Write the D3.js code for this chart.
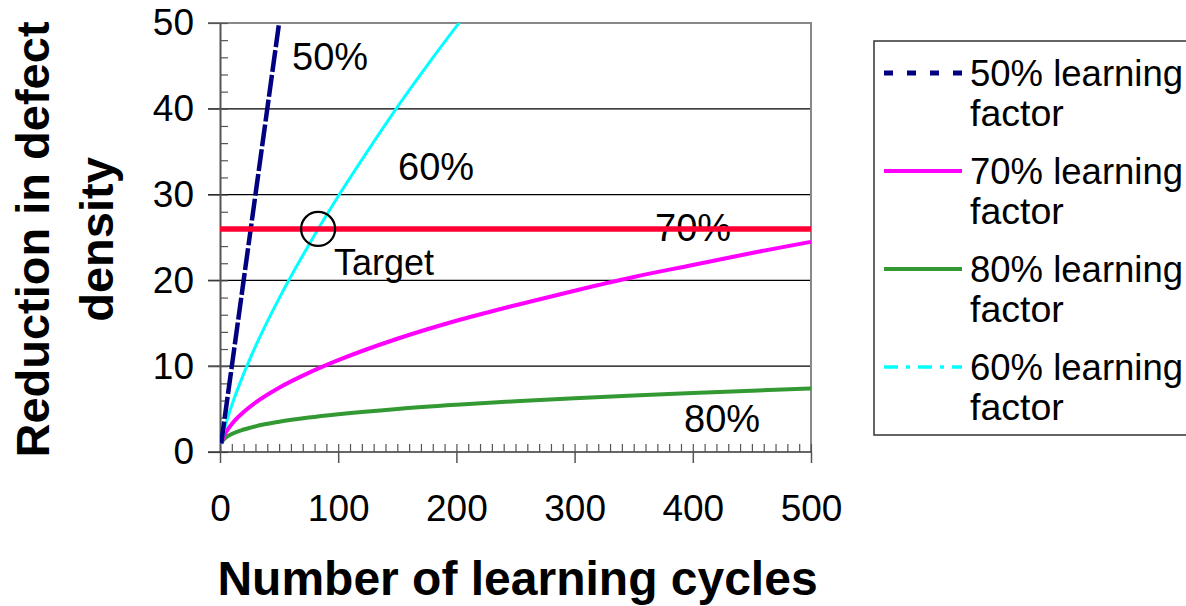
<!DOCTYPE html>
<html>
<head>
<meta charset="utf-8">
<script src="https://cdn.jsdelivr.net/npm/d3@7"></script>
<style>
  html, body { margin: 0; padding: 0; background: #fff; }
  svg { display: block; font-family: "Liberation Sans", Arial, sans-serif; }
</style>
</head>
<body>
<svg id="chart" width="1186" height="606"></svg>
<script>
// Learning-curve series: reduction in defect density vs. number of learning cycles
const cycles = [1, 2, 5, 10, 20, 30, 50, 75, 100, 150, 200, 250, 300, 350, 400, 450, 500];
const factor70 = [1, 1.43, 2.29, 3.27, 4.67, 5.76, 7.49, 9.22, 10.7, 13.2, 15.3, 17.1, 18.8, 20.4, 21.8, 23.2, 24.5];
const factor80 = [1, 1.25, 1.68, 2.10, 2.62, 2.99, 3.52, 4.01, 4.40, 5.02, 5.50, 5.91, 6.27, 6.59, 6.88, 7.15, 7.40];
const cycles60 = [1, 2, 5, 10, 20, 30, 50, 75, 100, 125, 150, 175, 200, 205];
const factor60 = [1, 1.67, 3.27, 5.46, 9.10, 12.3, 17.9, 24.1, 29.8, 35.1, 40.2, 45.0, 49.6, 50.5];
const cycles50 = [1, 10, 20, 30, 40, 50];
const factor50 = [1, 10, 20, 30, 40, 50];

const targetValue = 26;
const targetCycles = 83;

const xTicks = [0, 100, 200, 300, 400, 500];
const yTicks = [0, 10, 20, 30, 40, 50];

const legendLabels = ["50% learning", "70% learning", "80% learning", "60% learning"];
const curveLabels = [
  { text: "50%", x: 292, y: 70 },
  { text: "60%", x: 398, y: 180 },
  { text: "70%", x: 655, y: 241 },
  { text: "80%", x: 684, y: 432 }
];

const svg = d3.select("#chart");
const plotLeft = 220, plotRight = 811, plotTop = 23, plotBottom = 452;

const x = d3.scaleLinear().domain([0, 500]).range([plotLeft, plotRight]);
const y = d3.scaleLinear().domain([0, 50]).range([plotBottom, plotTop]);

// horizontal gridlines (extend left as outer major ticks)
svg.append("g")
  .selectAll("line")
  .data(yTicks.slice(1))
  .join("line")
  .attr("x1", plotLeft - 12).attr("x2", plotRight)
  .attr("y1", d => y(d)).attr("y2", d => y(d))
  .attr("stroke", "#000").attr("stroke-width", 1.2);

// plot frame (top, right)
svg.append("path")
  .attr("d", `M${plotLeft},${plotTop}H${plotRight}V${plotBottom}`)
  .attr("fill", "none").attr("stroke", "#888").attr("stroke-width", 2);

// y axis: major ticks + labels
const yAxis = svg.append("g")
  .attr("transform", `translate(${plotLeft},0)`)
  .call(d3.axisLeft(y).tickValues(yTicks).tickSize(12).tickPadding(14).tickSizeOuter(0));
yAxis.select(".domain").attr("stroke", "#555").attr("stroke-width", 2);
yAxis.selectAll(".tick line").attr("stroke", "#555").attr("stroke-width", 1.2);
yAxis.selectAll("text").attr("font-size", 37).attr("fill", "#000")
  .attr("font-family", "'Liberation Sans', Arial, sans-serif");

// y axis minor ticks (inside)
svg.append("g")
  .attr("transform", `translate(${plotLeft},0)`)
  .call(d3.axisRight(y).tickValues(d3.range(0, 51, 2)).tickSize(8).tickFormat(""))
  .call(g => g.select(".domain").remove())
  .selectAll(".tick line").attr("stroke", "#555").attr("stroke-width", 1.2);

// x axis: major ticks + labels
const xAxis = svg.append("g")
  .attr("transform", `translate(0,${plotBottom})`)
  .call(d3.axisBottom(x).tickValues(xTicks).tickSize(11).tickPadding(45).tickSizeOuter(0));
xAxis.select(".domain").attr("stroke", "#333").attr("stroke-width", 1.5)
  .attr("d", `M${plotLeft - 12},0H${plotRight}`);
xAxis.selectAll(".tick line").attr("stroke", "#555").attr("stroke-width", 1.5);
xAxis.selectAll("text").attr("font-size", 37).attr("fill", "#000")
  .attr("font-family", "'Liberation Sans', Arial, sans-serif")
  .attr("dy", "0.34em");

// x axis minor ticks (inside)
svg.append("g")
  .attr("transform", `translate(0,${plotBottom})`)
  .call(d3.axisTop(x).tickValues(d3.range(0, 501, 10)).tickSize(8).tickFormat(""))
  .call(g => g.select(".domain").remove())
  .selectAll(".tick line").attr("stroke", "#555").attr("stroke-width", 1.2);

// clip for curves
svg.append("clipPath").attr("id", "plotClip")
  .append("rect").attr("x", plotLeft).attr("y", plotTop)
  .attr("width", plotRight - plotLeft).attr("height", plotBottom - plotTop);

const mk = d3.line().x(d => x(d[0])).y(d => y(d[1])).curve(d3.curveMonotoneX);

const plot = svg.append("g").attr("clip-path", "url(#plotClip)");

plot.append("path")
  .datum(d3.zip(cycles, factor80))
  .attr("d", mk).attr("fill", "none")
  .attr("stroke", "#339933").attr("stroke-width", 4);

plot.append("path")
  .datum(d3.zip(cycles, factor70))
  .attr("d", mk).attr("fill", "none")
  .attr("stroke", "#ff00ff").attr("stroke-width", 4);

plot.append("path")
  .datum(d3.zip(cycles60, factor60))
  .attr("d", mk).attr("fill", "none")
  .attr("stroke", "#00ffff").attr("stroke-width", 3);

plot.append("path")
  .datum(d3.zip(cycles50, factor50))
  .attr("d", mk).attr("fill", "none")
  .attr("stroke", "#000080").attr("stroke-width", 4.5)
  .attr("stroke-dasharray", "22,3");

// curve labels
svg.append("g")
  .selectAll("text")
  .data(curveLabels)
  .join("text")
  .attr("x", d => d.x).attr("y", d => d.y)
  .attr("font-size", 38).attr("fill", "#000")
  .text(d => d.text);

// target line and marker
svg.append("line")
  .attr("x1", x(0)).attr("x2", x(500))
  .attr("y1", y(targetValue)).attr("y2", y(targetValue))
  .attr("stroke", "#ff0033").attr("stroke-width", 5.5);

svg.append("circle")
  .attr("cx", x(targetCycles)).attr("cy", y(targetValue)).attr("r", 17)
  .attr("fill", "none").attr("stroke", "#000").attr("stroke-width", 2.2);

svg.append("text")
  .attr("x", 334).attr("y", 275)
  .attr("font-size", 36).attr("fill", "#000")
  .text("Target");

// axis titles
svg.append("text")
  .attr("x", (plotLeft + plotRight) / 2 + 2).attr("y", 595)
  .attr("text-anchor", "middle")
  .attr("font-size", 48).attr("font-weight", "bold")
  .text("Number of learning cycles");

const yTitle = svg.append("text")
  .attr("transform", `translate(0,${(plotTop + plotBottom) / 2 + 2}) rotate(-90)`)
  .attr("text-anchor", "middle")
  .attr("font-size", 47).attr("font-weight", "bold");
yTitle.append("tspan").attr("x", 0).attr("y", 49).text("Reduction in defect");
yTitle.append("tspan").attr("x", 0).attr("y", 113).text("density");

// legend
const legend = svg.append("g");
legend.append("rect")
  .attr("x", 874).attr("y", 41).attr("width", 340).attr("height", 394)
  .attr("fill", "#fff").attr("stroke", "#333").attr("stroke-width", 1.5);

const legendStyles = [
  { color: "#000080", width: 5, dash: "9,14" },
  { color: "#ff00ff", width: 4, dash: null },
  { color: "#339933", width: 4, dash: null },
  { color: "#00ffff", width: 3.5, dash: "14,8,4,8" }
];

const entries = legend.selectAll("g.entry")
  .data(legendLabels)
  .join("g").attr("class", "entry")
  .attr("transform", (d, i) => `translate(0,${73 + i * 98})`);

entries.append("line")
  .attr("x1", 884).attr("x2", 962).attr("y1", 0).attr("y2", 0)
  .attr("stroke", (d, i) => legendStyles[i].color)
  .attr("stroke-width", (d, i) => legendStyles[i].width)
  .attr("stroke-dasharray", (d, i) => legendStyles[i].dash);

entries.append("text")
  .attr("x", 970).attr("y", 13)
  .attr("font-size", 36.5).attr("fill", "#000")
  .text(d => d);

entries.append("text")
  .attr("x", 970).attr("y", 53)
  .attr("font-size", 37.5).attr("fill", "#000")
  .text("factor");
</script>
</body>
</html>
